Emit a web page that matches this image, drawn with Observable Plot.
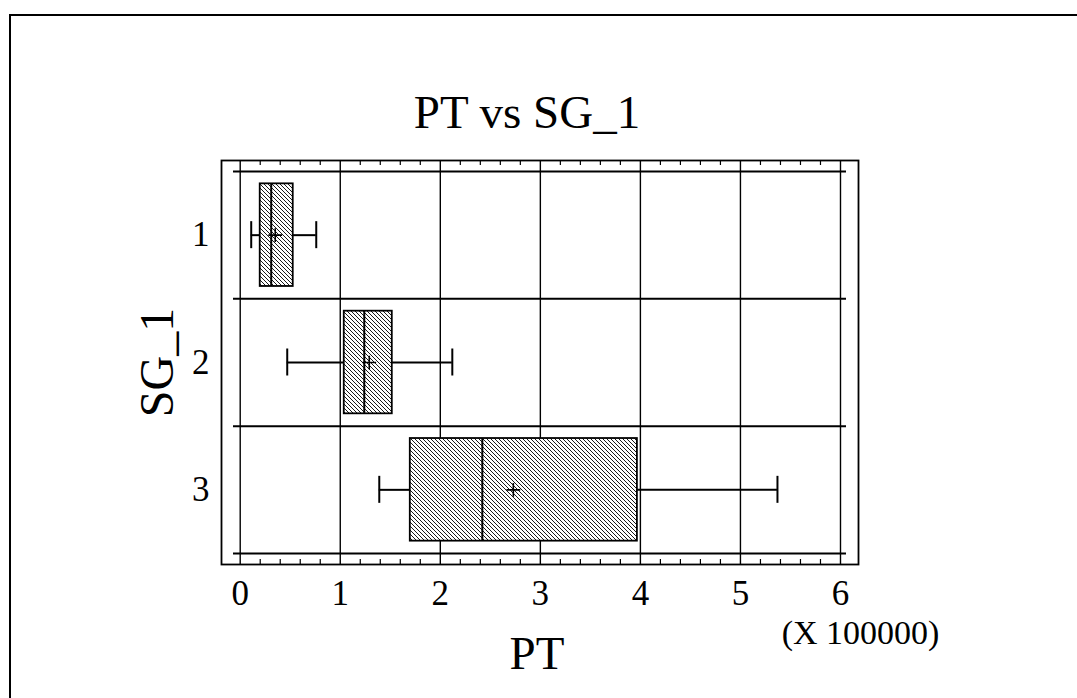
<!DOCTYPE html>
<html><head><meta charset="utf-8">
<script src="https://cdn.jsdelivr.net/npm/d3@7"></script>
<script src="https://cdn.jsdelivr.net/npm/@observablehq/plot@0.6"></script>
<style>
html,body{margin:0;padding:0;background:#fff;overflow:hidden;}
#page{position:relative;width:1077px;height:698px;overflow:hidden;background:#fff;}
#border{position:absolute;left:9px;top:14px;width:1200px;height:800px;border-left:2px solid #000;border-top:2px solid #000;}
#chart{position:absolute;left:0;top:0;}
</style></head><body>
<div id="page"><div id="border"></div><div id="chart"></div></div>
<script>
// Data (PT in units of 100000)
const categories = [1, 2, 3];
const categoryLabels = ["1", "2", "3"];
const whiskerLo = [0.11, 0.47, 1.39];
const q1 = [0.20, 1.04, 1.70];
const median = [0.31, 1.24, 2.42];
const mean = [0.35, 1.29, 2.73];
const q3 = [0.53, 1.52, 3.97];
const whiskerHi = [0.76, 2.12, 5.37];
const xTicks = [0, 1, 2, 3, 4, 5, 6];
const xMinorTicks = [0.2,0.4,0.6,0.8,1.2,1.4,1.6,1.8,2.2,2.4,2.6,2.8,3.2,3.4,3.6,3.8,4.2,4.4,4.6,4.8,5.2,5.4,5.6,5.8];
const categoryBounds = [0.5, 1.5, 2.5, 3.5];
const titleText = "PT vs SG_1";
const xLabel = "PT";
const yLabel = "SG_1";
const xMultiplier = "(X 100000)";

const rows = categories.map((c, i) => ({
  cat: c, lo: whiskerLo[i], q1: q1[i], med: median[i], mean: mean[i], q3: q3[i], hi: whiskerHi[i]
}));
const half = 0.403, cap = 0.106;

const plot = Plot.plot({
  width: 1077, height: 698,
  marginLeft: 221, marginRight: 219, marginTop: 160, marginBottom: 134,
  x: {domain: [-0.187, 6.18]},
  y: {domain: [0.4137, 3.5863], reverse: true},
  style: {fontFamily: "'Liberation Serif', 'Times New Roman', serif", color: "#000", background: "transparent"},
  marks: [
    Plot.ruleX(xTicks, {stroke: "#000", strokeWidth: 1.4}),
    Plot.ruleX(xMinorTicks, {stroke: "#000", strokeWidth: 1.2, insetTop: 399}),
    Plot.ruleX(xMinorTicks, {stroke: "#000", strokeWidth: 1.2, insetBottom: 399}),
    Plot.ruleY(categoryBounds, {x1: -0.067, x2: 6.06, stroke: "#000", strokeWidth: 2}),
    Plot.ruleY(rows, {y: "cat", x1: "lo", x2: "q1", stroke: "#000", strokeWidth: 2}),
    Plot.ruleY(rows, {y: "cat", x1: "q3", x2: "hi", stroke: "#000", strokeWidth: 2}),
    Plot.ruleX(rows, {x: "lo", y1: d => d.cat - cap, y2: d => d.cat + cap, stroke: "#000", strokeWidth: 2}),
    Plot.ruleX(rows, {x: "hi", y1: d => d.cat - cap, y2: d => d.cat + cap, stroke: "#000", strokeWidth: 2}),
    Plot.rect(rows, {x1: "q1", x2: "q3", y1: d => d.cat - half, y2: d => d.cat + half, fill: "url(#hatch)", stroke: "#000", strokeWidth: 1.8}),
    Plot.ruleX(rows, {x: "med", y1: d => d.cat - half, y2: d => d.cat + half, stroke: "#000", strokeWidth: 2}),
    Plot.dot(rows, {x: "mean", y: "cat", symbol: "plus", r: 4.5, stroke: "#000", strokeWidth: 1.6}),
    Plot.frame({stroke: "#000", strokeWidth: 1.8}),
    Plot.axisX(xTicks, {tickSize: 0, tickPadding: 16, fontSize: 35, label: null}),
    Plot.axisY(categories, {tickSize: 0, tickPadding: 12, fontSize: 35, label: null, tickFormat: (d) => categoryLabels[categories.indexOf(d)]}),
    Plot.text([titleText], {frameAnchor: "top", textAnchor: "middle", dx: -13, dy: -33, lineAnchor: "bottom", fontSize: 47, fill: "#000"}),
    Plot.text([xLabel], {frameAnchor: "bottom", textAnchor: "middle", dx: -3, dy: 104, lineAnchor: "bottom", fontSize: 47, fill: "#000"}),
    Plot.text([xMultiplier], {frameAnchor: "bottom-right", textAnchor: "middle", dx: 2, dy: 79, lineAnchor: "bottom", fontSize: 34, fill: "#000"}),
    Plot.text([yLabel], {frameAnchor: "left", textAnchor: "middle", rotate: -90, dx: -49, lineAnchor: "bottom", fontSize: 48, fill: "#000"})
  ]
});

const svg = d3.select(plot);
const pat = svg.insert("defs", ":first-child")
  .append("pattern").attr("id", "hatch").attr("patternUnits", "userSpaceOnUse")
  .attr("width", 4).attr("height", 4);
pat.append("rect").attr("width", 4).attr("height", 4).attr("fill", "#fff");
pat.append("path").attr("d", "M-1,-1L5,5M-1,3L1,5M3,-1L5,1").attr("stroke", "#000").attr("stroke-width", 0.9);

document.getElementById("chart").appendChild(plot);
</script>
</body></html>
